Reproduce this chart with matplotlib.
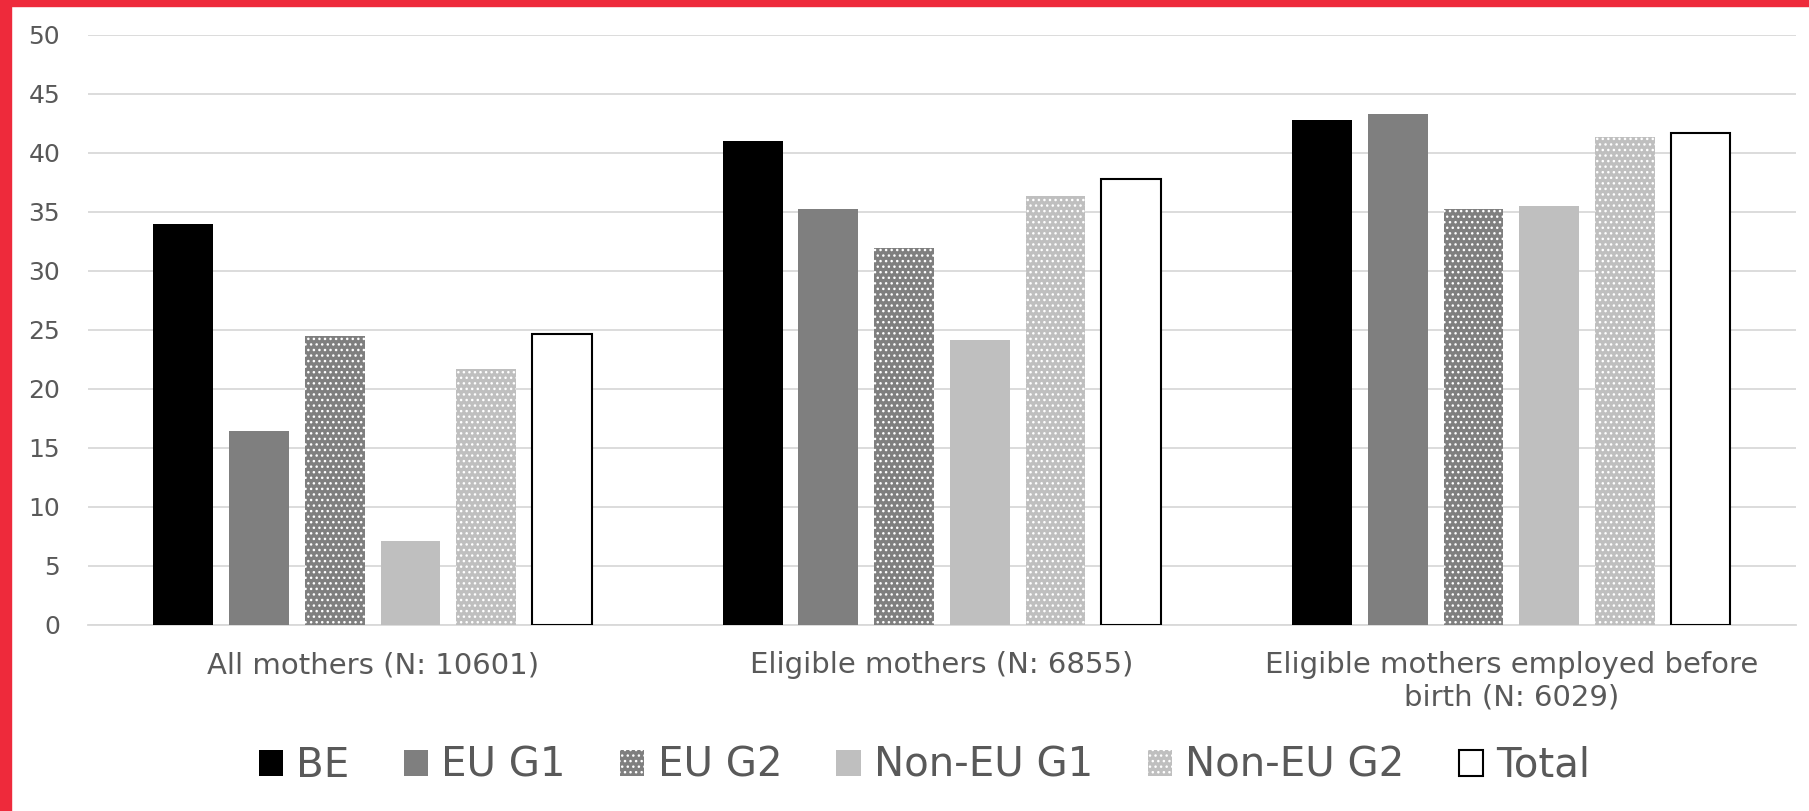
import matplotlib
matplotlib.use("Agg")
import matplotlib.pyplot as plt
import numpy as np
from matplotlib.patches import Rectangle

plt.rcParams['font.family'] = ['DejaVu Sans']
plt.rcParams['hatch.linewidth'] = 1.0

# data
groups = ["All mothers (N: 10601)", "Eligible mothers (N: 6855)",
          "Eligible mothers employed before\nbirth (N: 6029)"]
series = ["BE", "EU G1", "EU G2", "Non-EU G1", "Non-EU G2", "Total"]
be = [34.0, 41.0, 42.8]
eu_g1 = [16.4, 35.2, 43.3]
eu_g2 = [24.5, 31.9, 35.2]
noneu_g1 = [7.1, 24.1, 35.5]
noneu_g2 = [21.7, 36.3, 41.3]
total = [24.6, 37.8, 41.7]
values = [be, eu_g1, eu_g2, noneu_g1, noneu_g2, total]

# styling per series: face, edge, hatch, linewidth
styles = [
    ("black", "black", None, 0),
    ("#7f7f7f", "#7f7f7f", None, 0),
    ("#7f7f7f", "white", "...", 0),
    ("#bfbfbf", "#bfbfbf", None, 0),
    ("#bfbfbf", "white", "...", 0),
    ("white", "black", None, 1.5),
]

txt = "#595959"
fig = plt.figure(figsize=(18.09, 8.11), dpi=100)
ax = fig.add_axes([0.0486, 0.2297, 0.9442, 0.7275])

x = np.arange(len(groups))
step = 0.133
width = 0.105
for i, (name, vals) in enumerate(zip(series, values)):
    fc, ec, hatch, lw = styles[i]
    ax.bar(x + (i - 2.5) * step, vals, width, color=fc, edgecolor=ec,
           hatch=hatch, linewidth=lw, label=name, zorder=3)

ax.set_xlim(-0.5, 2.5)
ax.set_ylim(0, 50)
ax.set_yticks(np.arange(0, 51, 5))
ax.yaxis.grid(True, color="#d9d9d9", linewidth=1.3, zorder=0)
ax.set_axisbelow(True)
for s in ["top", "right", "left"]:
    ax.spines[s].set_visible(False)
ax.spines["bottom"].set_color("#d9d9d9")
ax.spines["bottom"].set_linewidth(1.3)
ax.set_xticks(x)
ax.set_xticklabels(groups, fontsize=21, color=txt, linespacing=1.22)
ax.tick_params(axis="x", length=0, pad=19)
ax.tick_params(axis="y", length=0, pad=20, labelsize=18, labelcolor=txt)

leg = ax.legend(loc="center", bbox_to_anchor=(0.511, 0.0555), bbox_transform=fig.transFigure,
                ncol=6, frameon=False, fontsize=29, handlelength=0.6, handleheight=0.6,
                handletextpad=0.33, columnspacing=1.35, labelcolor=txt)

# red frame on the top and left edges
fig.patches.append(Rectangle((0, 1 - 6 / 811), 1, 6 / 811, transform=fig.transFigure,
                             color="#ee2a3b", zorder=10))
fig.patches.append(Rectangle((0, 0), 11 / 1809, 1, transform=fig.transFigure,
                             color="#ee2a3b", zorder=10))

fig.savefig("out.png", dpi=100)
